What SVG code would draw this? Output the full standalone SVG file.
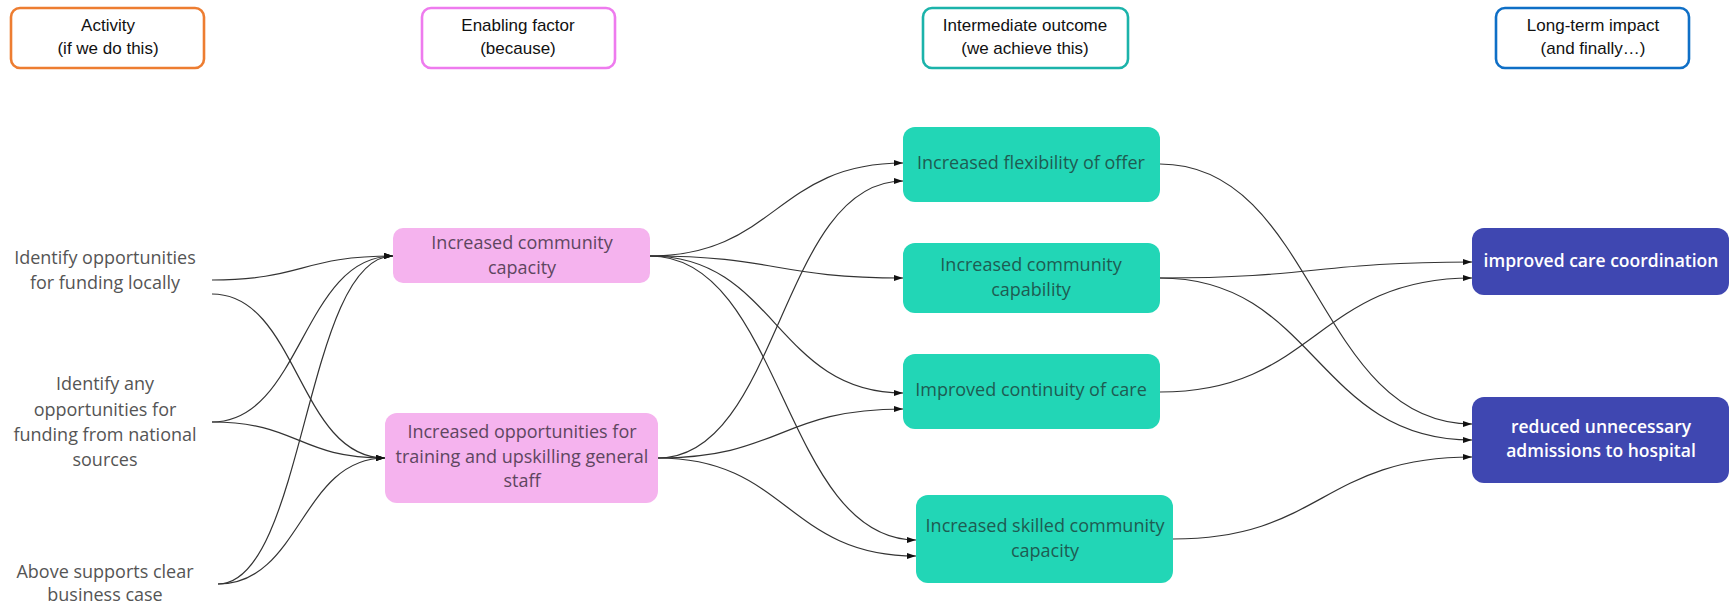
<svg xmlns="http://www.w3.org/2000/svg" width="1731" height="612" viewBox="0 0 1731 612">
<defs>
<style>
.hdr{fill:#fff;stroke-width:2.6}
.htxt{font-family:"Liberation Sans",Arial,sans-serif;font-size:17px;fill:#111;text-anchor:middle}
.act{font-family:"Open Sans","Noto Sans",sans-serif;font-size:18px;fill:#555;text-anchor:middle}
.pink{fill:#F5B3EE}
.ptxt{font-family:"Open Sans","Noto Sans",sans-serif;font-size:18px;fill:#5e4660;text-anchor:middle}
.teal{fill:#22D6B6}
.ttxt{font-family:"Open Sans","Noto Sans",sans-serif;font-size:18px;fill:#1e5c52;text-anchor:middle}
.navy{fill:#3F47B1}
.ntxt{font-family:"Open Sans","Noto Sans",sans-serif;font-size:17.5px;font-weight:600;fill:#fff;text-anchor:middle}
.conn path{fill:none;stroke:#333;stroke-width:1.2;marker-end:url(#arr)}
</style>
<marker id="arr" markerWidth="9" markerHeight="6" refX="9" refY="3" orient="auto" markerUnits="userSpaceOnUse">
<path d="M0,0 L9,3 L0,6 z" fill="#111"/>
</marker>
</defs>
<rect width="1731" height="612" fill="#fff"/>

<g id="hdr-activity">
<rect class="hdr" x="11" y="8" width="193" height="60" rx="9" stroke="#ED7D31"/>
<text class="htxt" x="108" y="31">Activity</text>
<text class="htxt" x="108" y="54">(if we do this)</text>
</g>
<g id="hdr-enabling">
<rect class="hdr" x="422" y="8" width="193" height="60" rx="9" stroke="#EE7BEE"/>
<text class="htxt" x="518" y="31">Enabling factor</text>
<text class="htxt" x="518" y="54">(because)</text>
</g>
<g id="hdr-intermediate">
<rect class="hdr" x="923" y="8" width="205" height="60" rx="9" stroke="#1BB3AA"/>
<text class="htxt" x="1025" y="31">Intermediate outcome</text>
<text class="htxt" x="1025" y="54">(we achieve this)</text>
</g>
<g id="hdr-longterm">
<rect class="hdr" x="1496" y="8" width="193" height="60" rx="9" stroke="#0F6FC6"/>
<text class="htxt" x="1593" y="31">Long-term impact</text>
<text class="htxt" x="1593" y="54">(and finally…)</text>
</g>

<g class="conn" id="connectors">
<path d="M212,280 C302,280 302,256 393,256"/>
<path d="M212,294 C298,294 298,458 385,458"/>
<path d="M212,422 C302,422 302,256 393,256"/>
<path d="M212,422 C298,422 298,458 385,458"/>
<path d="M218,584 C305,584 305,256 393,256"/>
<path d="M218,584 C301,584 301,458 385,458"/>
<path d="M650,256 C776,256 776,163 903,163"/>
<path d="M650,256 C776,256 776,278 903,278"/>
<path d="M650,256 C776,256 776,393 903,393"/>
<path d="M650,256 C783,256 783,540 916,540"/>
<path d="M658,458 C780,458 780,181 903,181"/>
<path d="M658,458 C780,458 780,409 903,409"/>
<path d="M658,458 C787,458 787,556 916,556"/>
<path d="M1160,164 C1316,164 1316,424 1472,424"/>
<path d="M1160,278 C1316,278 1316,262 1472,262"/>
<path d="M1160,278 C1316,278 1316,440 1472,440"/>
<path d="M1160,392 C1316,392 1316,278 1472,278"/>
<path d="M1173,539 C1322,539 1322,457 1472,457"/>
</g>

<g id="act-1">
<text class="act" x="105" y="264">Identify opportunities</text>
<text class="act" x="105" y="289">for funding locally</text>
</g>
<g id="act-2">
<text class="act" x="105" y="390">Identify any</text>
<text class="act" x="105" y="416">opportunities for</text>
<text class="act" x="105" y="441">funding from national</text>
<text class="act" x="105" y="466">sources</text>
</g>
<g id="act-3">
<text class="act" x="105" y="578">Above supports clear</text>
<text class="act" x="105" y="601">business case</text>
</g>

<g id="en-1">
<rect class="pink" x="393" y="228" width="257" height="55" rx="10"/>
<text class="ptxt" x="522" y="249">Increased community</text>
<text class="ptxt" x="522" y="274">capacity</text>
</g>
<g id="en-2">
<rect class="pink" x="385" y="413" width="273" height="90" rx="12"/>
<text class="ptxt" x="522" y="438">Increased opportunities for</text>
<text class="ptxt" x="522" y="463">training and upskilling general</text>
<text class="ptxt" x="522" y="487">staff</text>
</g>

<g id="io-1">
<rect class="teal" x="903" y="127" width="257" height="75" rx="12"/>
<text class="ttxt" x="1031" y="169">Increased flexibility of offer</text>
</g>
<g id="io-2">
<rect class="teal" x="903" y="243" width="257" height="70" rx="12"/>
<text class="ttxt" x="1031" y="271">Increased community</text>
<text class="ttxt" x="1031" y="296">capability</text>
</g>
<g id="io-3">
<rect class="teal" x="903" y="354" width="257" height="75" rx="12"/>
<text class="ttxt" x="1031" y="396">Improved continuity of care</text>
</g>
<g id="io-4">
<rect class="teal" x="916" y="495" width="257" height="88" rx="12"/>
<text class="ttxt" x="1045" y="532">Increased skilled community</text>
<text class="ttxt" x="1045" y="557">capacity</text>
</g>

<g id="lt-1">
<rect class="navy" x="1472" y="228" width="257" height="67" rx="12"/>
<text class="ntxt" x="1601" y="267">improved care coordination</text>
</g>
<g id="lt-2">
<rect class="navy" x="1472" y="397" width="257" height="86" rx="12"/>
<text class="ntxt" x="1601" y="433">reduced unnecessary</text>
<text class="ntxt" x="1601" y="457">admissions to hospital</text>
</g>
</svg>
